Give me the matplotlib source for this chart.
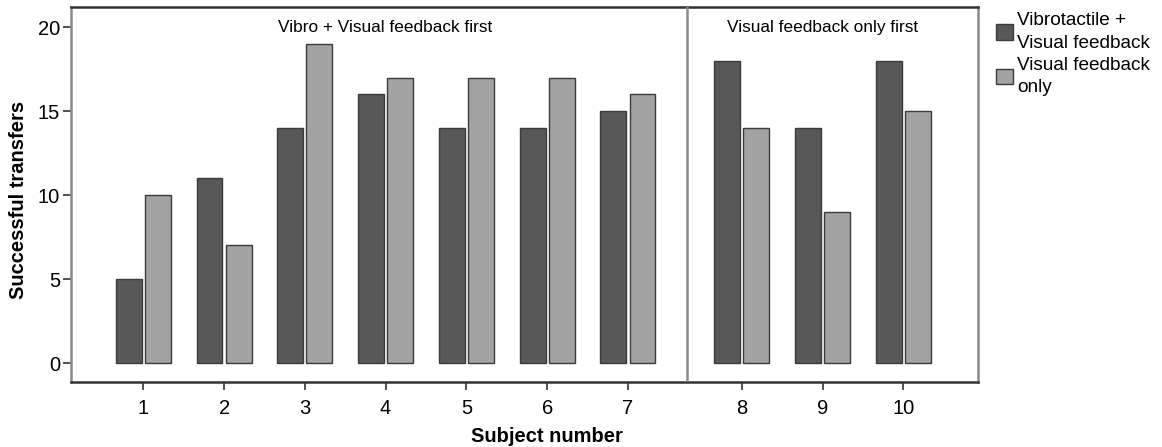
import matplotlib
matplotlib.use("Agg")
import matplotlib.pyplot as plt
from matplotlib.patches import Patch
import numpy as np

plt.rcParams['font.family'] = ['Liberation Sans', 'DejaVu Sans']

subjects = ['1', '2', '3', '4', '5', '6', '7', '8', '9', '10']
vibro_visual = [5, 11, 14, 16, 14, 14, 15, 18, 14, 18]
visual_only = [10, 7, 19, 17, 17, 17, 16, 14, 9, 15]
series_labels = ['Vibrotactile +\nVisual feedback', 'Visual feedback\nonly']
group_labels = ['Vibro + Visual feedback first', 'Visual feedback only first']
group_sizes = [7, 3]

dark = '#585858'
light = '#a3a3a3'
edge = '#3a3a3a'

# subject positions: second group is shifted to leave room for the divider
gap = 0.41
pos = np.arange(len(subjects), dtype=float)
pos[group_sizes[0]:] += gap
width = 0.32
off = 0.18

fig = plt.figure(figsize=(11.62, 4.47), dpi=100)
ax = fig.add_axes([0.0611, 0.1454, 0.8414 - 0.0611, 0.9843 - 0.1454])

ax.bar(pos - off, vibro_visual, width, color=dark, edgecolor=edge, linewidth=1.0,
       label=series_labels[0], zorder=2)
ax.bar(pos + off, visual_only, width, color=light, edgecolor=edge, linewidth=1.0,
       label=series_labels[1], zorder=2)

ax.set_xlim(-0.895, pos[-1] + 0.92)
ax.set_ylim(-1.13, 21.2)
ax.set_xticks(pos)
ax.set_xticklabels(subjects)
ax.set_yticks([0, 5, 10, 15, 20])
ax.tick_params(axis='both', labelsize=14.5, length=6, width=1.2, color='#333333',
               direction='out')
ax.tick_params(axis='x', pad=6)
ax.tick_params(axis='y', pad=2)

for side in ['top', 'bottom']:
    ax.spines[side].set_color('#333333')
    ax.spines[side].set_linewidth(1.8)
for side in ['left', 'right']:
    ax.spines[side].set_color('#8a8a8a')
    ax.spines[side].set_linewidth(1.8)

# divider between the two order groups
div_x = (pos[group_sizes[0] - 1] + pos[group_sizes[0]]) / 2 + 0.03
ax.axvline(div_x, color='#8a8a8a', linewidth=1.8, zorder=3)

# group titles
first = pos[:group_sizes[0]]
second = pos[group_sizes[0]:]
ax.text(first.mean(), 20.0, group_labels[0], ha='center', va='center', fontsize=12.4)
ax.text(second.mean(), 20.0, group_labels[1], ha='center', va='center', fontsize=12.4)

fig.text(547 / 1162, 1 - 436 / 447, 'Subject number', ha='center', va='center',
         fontsize=14.5, fontweight='bold')
fig.text(19 / 1162, 1 - 200 / 447, 'Successful transfers', ha='center', va='center',
         rotation=90, fontsize=14.5, fontweight='bold')

handles = [Patch(facecolor=dark, edgecolor=edge, linewidth=1.0),
           Patch(facecolor=light, edgecolor=edge, linewidth=1.0)]
leg = fig.legend(handles, series_labels, loc='upper left',
                 bbox_to_anchor=(996 / 1162, 1 - 12 / 447),
                 frameon=False, fontsize=13.7, handlelength=0.9, handleheight=0.9,
                 handletextpad=0.2, labelspacing=0.25, borderaxespad=0, borderpad=0)
for t in leg.get_texts():
    t.set_linespacing(1.45)

fig.savefig('out.png', dpi=100)
